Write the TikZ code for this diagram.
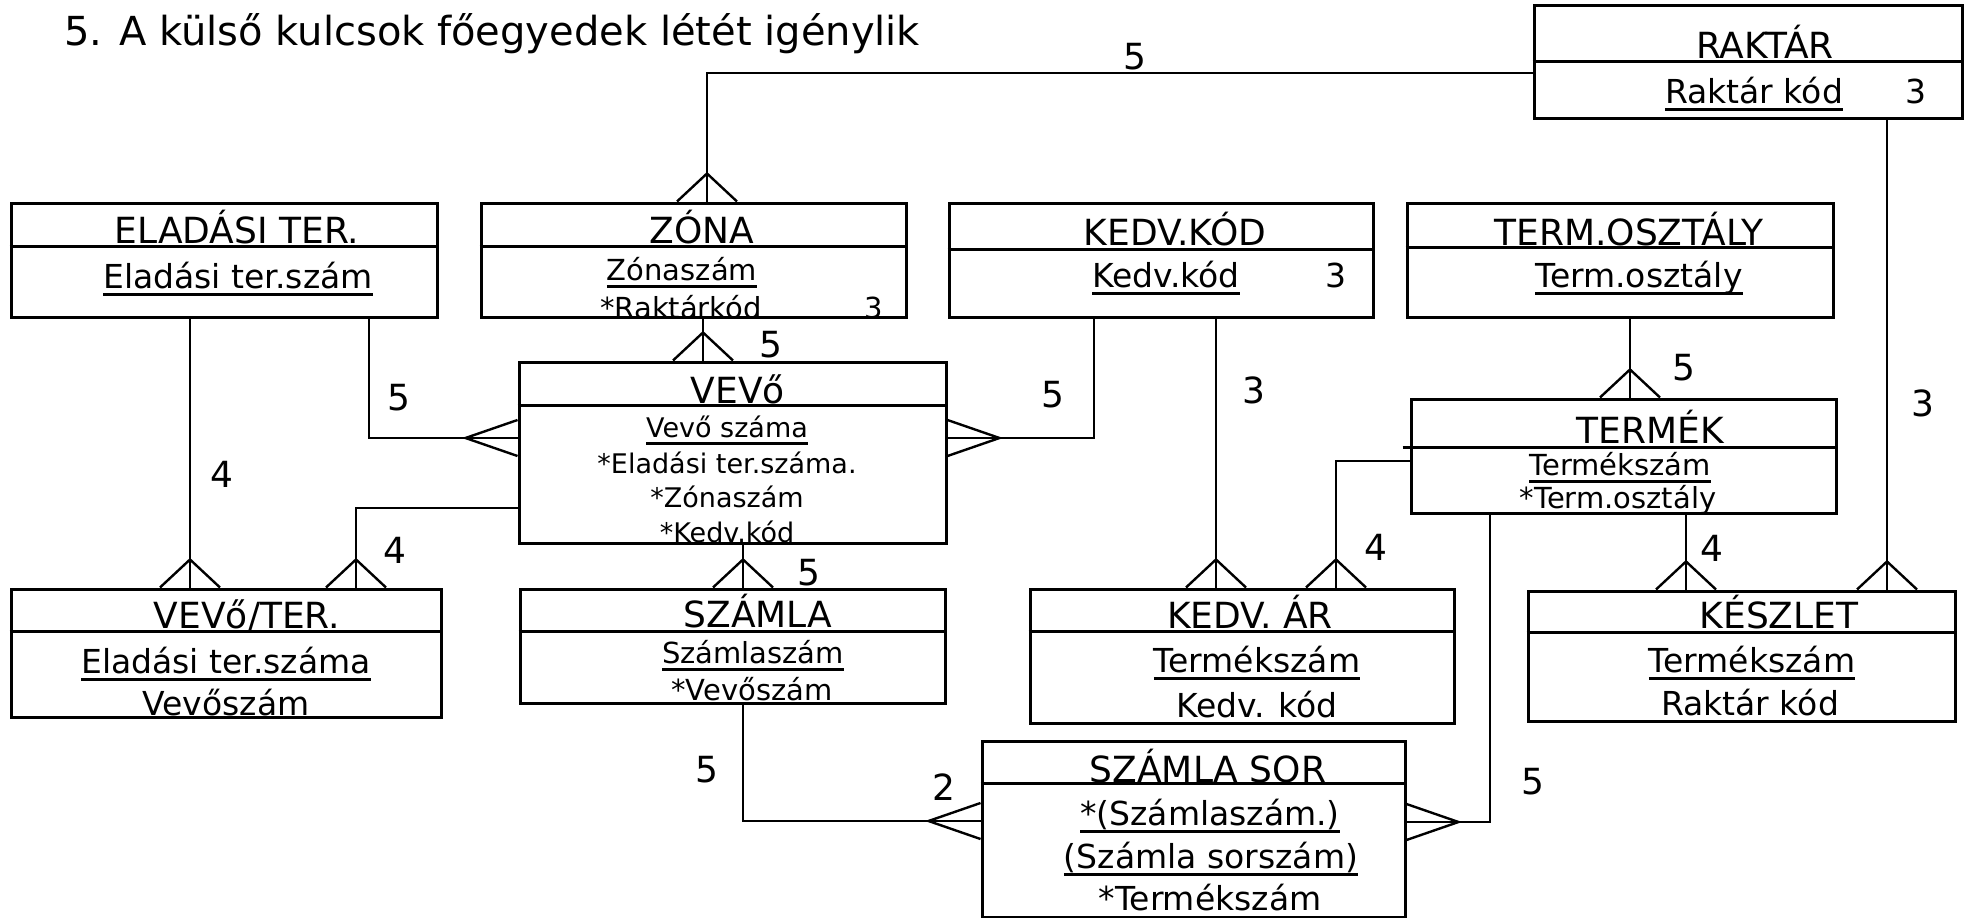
\documentclass[tikz,border=0pt]{standalone}
\usepackage{fontspec}
\setmainfont{DejaVu Sans}
\usetikzlibrary{shapes.misc}
\newsavebox{\kulcsbox}
\newcommand{\kulcs}[1]{\sbox{\kulcsbox}{#1}\rlap{\rule[-8pt]{\wd\kulcsbox}{3.5pt}}\usebox{\kulcsbox}}
\tikzset{
  ent/.style = {draw, chamfered rectangle, chamfered rectangle sep=6pt, inner sep=0pt, line width=3pt},
  sep/.style = {line width=3pt},
  hdr/.style = {anchor=base, inner sep=0pt, font=\fontsize{36}{40}\selectfont},
  attr/.style = {anchor=base, inner sep=0pt, font=\fontsize{33}{38}\selectfont},
  sattr/.style = {attr, font=\fontsize{29}{34}\selectfont},
  vattr/.style = {attr, font=\fontsize{27}{32}\selectfont},
  num/.style = {inner sep=0pt, font=\fontsize{36}{40}\selectfont},
  link/.style = {line width=2.4pt},
  crowv/.pic = {\draw[link] (-30,0) -- (0,-28) -- (30,0);},
  crowl/.pic = {\draw[link] (0,-18) -- (-52,0) -- (0,18);},
  crowr/.pic = {\draw[link] (0,-18) -- (52,0) -- (0,18);}
}
\begin{document}
\begin{tikzpicture}[x=1pt, y=-1pt]
	\useasboundingbox (0,0) rectangle (1970,918);
	\node [anchor=base west, inner sep=0pt, font=\fontsize{40}{44}\selectfont] (cim) at (64,45) {5. A külső kulcsok főegyedek létét igénylik};

	\node [ent, minimum width=428pt, minimum height=113pt] (raktar) at (1748,61.5) {};
	\draw [sep] (raktar.west |- 0,61) -- (raktar.east |- 0,61);
	\node [hdr] (raktar-n) at (1765,58) {RAKTÁR};
	\node [attr] (raktar-k) at (1754,103) {\kulcs{Raktár kód}};
	\node [attr] (raktar-f) at (1916,103) {3};

	\node [ent, minimum width=426pt, minimum height=114pt] (eladasi) at (224,260) {};
	\draw [sep] (eladasi.west |- 0,246) -- (eladasi.east |- 0,246);
	\node [hdr] (eladasi-n) at (237,243) {ELADÁSI TER.};
	\node [attr] (eladasi-k) at (238,288) {\kulcs{Eladási ter.szám}};

	\node [ent, minimum width=425pt, minimum height=114pt] (zona) at (693.5,260) {};
	\draw [sep] (zona.west |- 0,246) -- (zona.east |- 0,246);
	\node [hdr] (zona-n) at (702,243) {ZÓNA};
	\node [sattr] (zona-k) at (682,280) {\kulcs{Zónaszám}};
	\node [sattr] (zona-a) at (681,318) {*Raktárkód};
	\node [sattr] (zona-f) at (874,318) {3};

	\node [ent, minimum width=424pt, minimum height=114pt] (kedvkod) at (1161,260) {};
	\draw [sep] (kedvkod.west |- 0,249) -- (kedvkod.east |- 0,249);
	\node [hdr] (kedvkod-n) at (1175,245) {KEDV.KÓD};
	\node [attr] (kedvkod-k) at (1166,287) {\kulcs{Kedv.kód}};
	\node [attr] (kedvkod-f) at (1336,287) {3};

	\node [ent, minimum width=426pt, minimum height=114pt] (termoszt) at (1620,260) {};
	\draw [sep] (termoszt.west |- 0,247) -- (termoszt.east |- 0,247);
	\node [hdr] (termoszt-n) at (1629,245) {TERM.OSZTÁLY};
	\node [attr] (termoszt-k) at (1639,287) {\kulcs{Term.osztály}};

	\node [ent, minimum width=427pt, minimum height=181pt] (vevo) at (732.5,452.5) {};
	\draw [sep] (vevo.west |- 0,405) -- (vevo.east |- 0,405);
	\node [hdr] (vevo-n) at (738,403) {VEVő};
	\node [vattr] (vevo-k) at (727,437) {\kulcs{Vevő száma}};
	\node [vattr] (vevo-a) at (727,473) {*Eladási ter.száma.};
	\node [vattr] (vevo-b) at (727,507) {*Zónaszám};
	\node [vattr] (vevo-c) at (727,542) {*Kedv.kód};

	\node [ent, minimum width=425pt, minimum height=114pt] (termek) at (1623.5,456) {};
	\draw [sep] ([xshift=-7pt]termek.west |- 0,447) -- (termek.east |- 0,447);
	\node [hdr] (termek-n) at (1650,443) {TERMÉK};
	\node [sattr] (termek-k) at (1620,475) {\kulcs{Termékszám}};
	\node [sattr] (termek-a) at (1618,508) {*Term.osztály};

	\node [ent, minimum width=430pt, minimum height=128pt] (vevoter) at (226,653) {};
	\draw [sep] (vevoter.west |- 0,631) -- (vevoter.east |- 0,631);
	\node [hdr] (vevoter-n) at (247,628) {VEVő/TER.};
	\node [attr] (vevoter-k) at (226,673) {\kulcs{Eladási ter.száma}};
	\node [attr] (vevoter-a) at (226,715) {Vevőszám};

	\node [ent, minimum width=425pt, minimum height=114pt] (szamla) at (732.5,646) {};
	\draw [sep] (szamla.west |- 0,631) -- (szamla.east |- 0,631);
	\node [hdr] (szamla-n) at (758,627) {SZÁMLA};
	\node [sattr] (szamla-k) at (753,663) {\kulcs{Számlaszám}};
	\node [sattr] (szamla-a) at (752,700) {*Vevőszám};

	\node [ent, minimum width=424pt, minimum height=134pt] (kedvar) at (1242,656) {};
	\draw [sep] (kedvar.west |- 0,631) -- (kedvar.east |- 0,631);
	\node [hdr] (kedvar-n) at (1250,628) {KEDV. ÁR};
	\node [attr] (kedvar-k) at (1257,672) {\kulcs{Termékszám}};
	\node [attr] (kedvar-a) at (1257,717) {Kedv. kód};

	\node [ent, minimum width=427pt, minimum height=130pt] (keszlet) at (1741.5,656) {};
	\draw [sep] (keszlet.west |- 0,632) -- (keszlet.east |- 0,632);
	\node [hdr] (keszlet-n) at (1779,628) {KÉSZLET};
	\node [attr] (keszlet-k) at (1752,672) {\kulcs{Termékszám}};
	\node [attr] (keszlet-a) at (1750,715) {Raktár kód};

	\node [ent, minimum width=423pt, minimum height=176pt] (szamlasor) at (1193.5,829) {};
	\draw [sep] (szamlasor.west |- 0,783) -- (szamlasor.east |- 0,783);
	\node [hdr] (szamlasor-n) at (1208,782) {SZÁMLA SOR};
	\node [attr] (szamlasor-k) at (1210,825) {\kulcs{*(Számlaszám.)}};
	\node [attr] (szamlasor-l) at (1211,868) {\kulcs{(Számla sorszám)}};
	\node [attr] (szamlasor-a) at (1210,910) {*Termékszám};

	\draw [link] (raktar.west |- 0,73) -| (zona.north -| 707,0);
	\pic at (zona.north -| 707,0) {crowv};
	\draw [link] (raktar.south -| 1887,0) -- (keszlet.north -| 1887,0);
	\pic at (keszlet.north -| 1887,0) {crowv};
	\draw [link] (zona.south -| 703,0) -- (vevo.north -| 703,0);
	\pic at (vevo.north -| 703,0) {crowv};
	\draw [link] (eladasi.south -| 190,0) -- (vevoter.north -| 190,0);
	\pic at (vevoter.north -| 190,0) {crowv};
	\draw [link] (eladasi.south -| 369,0) |- (vevo.west |- 0,438);
	\pic at (vevo.west |- 0,438) {crowl};
	\draw [link] (vevo.west |- 0,508) -| (vevoter.north -| 356,0);
	\pic at (vevoter.north -| 356,0) {crowv};
	\draw [link] (kedvkod.south -| 1094,0) |- (vevo.east |- 0,438);
	\pic at (vevo.east |- 0,438) {crowr};
	\draw [link] (vevo.south -| 743,0) -- (szamla.north -| 743,0);
	\pic at (szamla.north -| 743,0) {crowv};
	\draw [link] (kedvkod.south -| 1216,0) -- (kedvar.north -| 1216,0);
	\pic at (kedvar.north -| 1216,0) {crowv};
	\draw [link] (termek.west |- 0,461) -| (kedvar.north -| 1336,0);
	\pic at (kedvar.north -| 1336,0) {crowv};
	\draw [link] (termoszt.south -| 1630,0) -- (termek.north -| 1630,0);
	\pic at (termek.north -| 1630,0) {crowv};
	\draw [link] (termek.south -| 1686,0) -- (keszlet.north -| 1686,0);
	\pic at (keszlet.north -| 1686,0) {crowv};
	\draw [link] (termek.south -| 1490,0) |- (szamlasor.east |- 0,822);
	\pic at (szamlasor.east |- 0,822) {crowr};
	\draw [link] (szamla.south -| 743,0) |- (szamlasor.west |- 0,821);
	\pic at (szamlasor.west |- 0,821) {crowl};

	\node [num] (n1) at (1135,57) {5};
	\node [num] (n2) at (1923,403) {3};
	\node [num] (n3) at (771,345) {5};
	\node [num] (n4) at (222,474) {4};
	\node [num] (n5) at (399,398) {5};
	\node [num] (n6) at (395,550) {4};
	\node [num] (n7) at (1053,395) {5};
	\node [num] (n8) at (809,573) {5};
	\node [num] (n9) at (1254,390) {3};
	\node [num] (n10) at (1376,547) {4};
	\node [num] (n11) at (1684,368) {5};
	\node [num] (n12) at (1712,548) {4};
	\node [num] (n13) at (1533,782) {5};
	\node [num] (n14) at (707,770) {5};
	\node [num] (n15) at (944,787) {2};
\end{tikzpicture}
\end{document}
